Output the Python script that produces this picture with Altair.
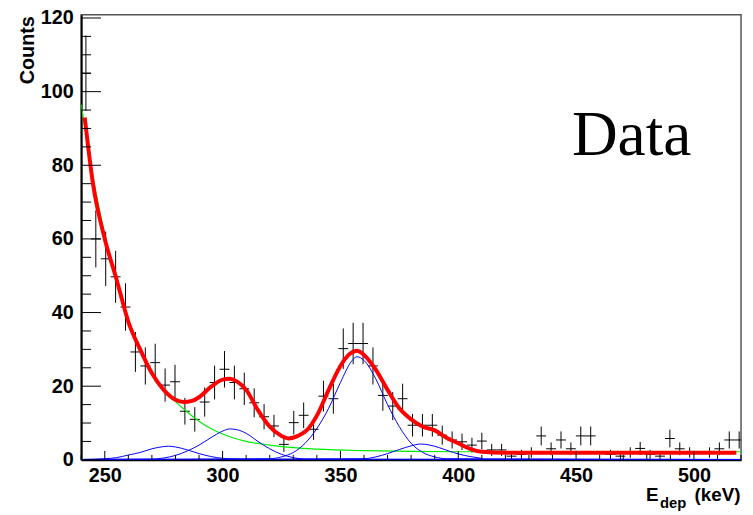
import altair as alt
import pandas as pd
import numpy as np

# ---------------- data ----------------
bin_centers = [242.0, 246.2, 250.4, 254.6, 258.8, 263.0, 267.2, 271.4, 275.6, 279.8,
               284.0, 288.2, 292.4, 296.6, 300.8, 305.0, 309.2, 313.4, 317.6, 321.8,
               326.0, 330.2, 334.4, 338.6, 342.8, 347.0, 351.2, 355.4, 359.6, 363.8,
               368.0, 372.2, 376.4, 380.6, 384.8, 389.0, 393.2, 397.4, 401.6, 405.8,
               410.0, 414.2, 418.4, 422.6, 426.8, 431.0, 435.2, 439.4, 443.6, 447.8,
               452.0, 456.2, 460.4, 464.6, 468.8, 473.0, 477.2, 481.4, 485.6, 489.8,
               494.0, 498.2, 502.4, 506.6, 510.8, 515.0, 519.2]
counts = [105, 60, 54.6, 49.7, 41.5, 29.3, 25.5, 26.4, 20.3, 21.2,
          13.2, 11.0, 15.7, 21.0, 24.6, 21.0, 19.3, 15.5, 11.7, 9.2,
          4.2, 10.1, 12.1, 8.3, 17.3, 16.6, 30.2, 31.6, 31.6, 25.5,
          17.5, 14.6, 16.6, 9.4, 9.4, 9.4, 6.7, 5.4, 4.9, 4.0,
          5.1, 2.7, 2.7, 1.0, 1.5, 2.0, 6.5, 3.0, 5.4, 3.0,
          6.5, 6.5, 0, 1.5, 1.0, 2.0, 3.1, 1.5, 1.0, 5.8,
          3.0, 2.0, 0, 2.0, 3.0, 5.4, 5.4]
half_bin = 2.1

# background (green)
bkg_x = [240, 245, 250, 255, 260, 265, 270, 275, 280, 285, 290, 295, 300, 310, 320,
         330, 340, 360, 380, 400, 440, 480, 520]
bkg_y = [96.5, 77, 61, 48.5, 37, 29.5, 23.5, 19, 15.8, 13, 10.5, 8.5, 7, 5.0, 4.0,
         3.3, 2.9, 2.5, 2.3, 2.2, 2.2, 2.2, 2.2]

# total fit (red)
tot_x = [241.5, 245, 250, 255, 260, 265, 270, 275, 280, 283.5, 287, 290, 295, 300,
         303, 306, 310, 315, 320, 325, 328, 332, 336, 340, 345, 350, 354, 357, 360,
         365, 370, 375, 380, 385, 390, 395, 400, 405, 410, 420, 518]
tot_y = [93, 75, 60, 49, 37.5, 30, 23.5, 19, 16.3, 15.7, 16, 17, 19.8, 21.8,
         22, 21.3, 19, 13.5, 9.0, 6.5, 5.8, 6.5, 8.2, 12, 19, 25.5, 28.8, 29.6, 28.5,
         24.5, 19, 14, 11, 9, 8, 6, 4.5, 3.0, 2.2, 1.9, 1.9]

# peaks (blue)
g1_x = [240, 250, 255, 260, 265, 270, 275, 277, 280, 285, 290, 295, 300, 305, 310, 520]
g1_y = [0.1, 0.3, 0.6, 1.3, 2.0, 3.0, 3.6, 3.7, 3.5, 2.7, 1.7, 0.9, 0.4, 0.2, 0.1, 0.1]
g2_x = [240, 270, 275, 280, 285, 290, 295, 300, 303, 306, 310, 315, 320, 325, 330, 335, 520]
g2_y = [0.1, 0.2, 0.5, 1.2, 2.4, 4.0, 6.0, 7.8, 8.4, 8.2, 7.2, 5.0, 3.0, 1.5, 0.6, 0.2, 0.1]
g3_x = [240, 320, 325, 330, 335, 340, 345, 350, 355, 357, 360, 365, 370, 375, 380,
        385, 390, 395, 520]
g3_y = [0.1, 0.3, 0.8, 2.0, 4.5, 8.5, 14, 21, 27, 28, 27, 22, 15, 9, 4.5,
        2, 0.8, 0.3, 0.1]
g4_x = [240, 360, 365, 370, 375, 380, 384, 388, 392, 396, 400, 405, 410]
g4_y = [0.1, 0.3, 0.8, 1.7, 2.8, 3.8, 4.3, 4.0, 3.3, 2.4, 1.6, 0.9, 0.4]

x_major = [250, 300, 350, 400, 450, 500]
x_minor = [240, 260, 270, 280, 290, 310, 320, 330, 340, 360, 370, 380, 390,
           410, 420, 430, 440, 460, 470, 480, 490, 510, 520]
y_major = [0, 20, 40, 60, 80, 100, 120]
y_minor = [5, 10, 15, 25, 30, 35, 45, 50, 55, 65, 70, 75, 85, 90, 95, 105, 110, 115]

# ---------------- chart ----------------
W, H = 667, 450
FONT = "Liberation Sans"
xs = alt.Scale(domain=[240, 520], nice=False, zero=False)
ys = alt.Scale(domain=[0, 120.9], nice=False, zero=False)

xaxis = alt.Axis(values=x_major, ticks=False, grid=False, domain=True,
                 domainColor="black", domainWidth=2, labelFont=FONT,
                 labelFontWeight="bold", labelFontSize=20, labelColor="black",
                 labelPadding=6, labelFlush=False, title=None)
yaxis = alt.Axis(values=y_major, ticks=False, grid=False, domain=True,
                 domainColor="black", domainWidth=2, labelFont=FONT,
                 labelFontWeight="bold", labelFontSize=20, labelColor="black",
                 labelPadding=8, title="Counts", titleFont=FONT,
                 titleFontWeight="bold", titleFontSize=20, titleColor="black",
                 titleAngle=270, titleAlign="right", titleBaseline="middle",
                 titleX=-54, titleY=1)

df = pd.DataFrame({"E": bin_centers, "N": counts})
df = df[df["N"] > 0].copy()
df["err"] = np.sqrt(df["N"])
df["lo"] = df["N"] - df["err"]
df["hi"] = df["N"] + df["err"]
df["xl"] = df["E"] - half_bin
df["xr"] = df["E"] + half_bin

hbar = alt.Chart(df).mark_rule(color="black", strokeWidth=1, clip=True).encode(
    x=alt.X("xl:Q", scale=xs, axis=xaxis), x2="xr:Q",
    y=alt.Y("N:Q", scale=ys, axis=yaxis))
vbar = alt.Chart(df).mark_rule(color="black", strokeWidth=1, clip=True).encode(
    x=alt.X("E:Q", scale=xs), y=alt.Y("lo:Q", scale=ys), y2="hi:Q")


def curve(xv, yv, color, width):
    d = pd.DataFrame({"x": xv, "y": yv})
    return alt.Chart(d).mark_line(color=color, strokeWidth=width, clip=True,
                                  interpolate="monotone").encode(
        x=alt.X("x:Q", scale=xs), y=alt.Y("y:Q", scale=ys))


green = curve(bkg_x, bkg_y, "#00ee00", 1.2)
blues = [curve(a, b, "#0000ff", 1) for a, b in
         [(g1_x, g1_y), (g2_x, g2_y), (g3_x, g3_y), (g4_x, g4_y)]]
red = curve(tot_x, tot_y, "#ff0000", 4)

# inward tick marks (ROOT style)
ymaj = alt.Chart(pd.DataFrame({"v": y_major})).mark_rule(color="black").encode(
    y=alt.Y("v:Q", scale=ys), x=alt.value(0), x2=alt.value(20))
ymin = alt.Chart(pd.DataFrame({"v": y_minor})).mark_rule(color="black").encode(
    y=alt.Y("v:Q", scale=ys), x=alt.value(0), x2=alt.value(10))
xmaj = alt.Chart(pd.DataFrame({"v": x_major})).mark_rule(color="black").encode(
    x=alt.X("v:Q", scale=xs), y=alt.value(H), y2=alt.value(H - 9))
xmin = alt.Chart(pd.DataFrame({"v": x_minor})).mark_rule(color="black").encode(
    x=alt.X("v:Q", scale=xs), y=alt.value(H), y2=alt.value(H - 5))

# texts
lab = alt.Chart(pd.DataFrame({"t": ["Data"]})).mark_text(
    font="Liberation Serif", fontSize=64, align="left", baseline="alphabetic",
    color="black").encode(text="t:N", x=alt.value(496), y=alt.value(142))
t_e = alt.Chart(pd.DataFrame({"t": ["E"]})).mark_text(
    font=FONT, fontSize=19, fontWeight="bold", align="left",
    baseline="alphabetic", color="black").encode(
    text="t:N", x=alt.value(571), y=alt.value(492))
t_dep = alt.Chart(pd.DataFrame({"t": ["dep"]})).mark_text(
    font=FONT, fontSize=15, fontWeight="bold", align="left",
    baseline="alphabetic", color="black").encode(
    text="t:N", x=alt.value(585), y=alt.value(499))
t_kev = alt.Chart(pd.DataFrame({"t": ["(keV)"]})).mark_text(
    font=FONT, fontSize=19, fontWeight="bold", align="left",
    baseline="alphabetic", color="black").encode(
    text="t:N", x=alt.value(620), y=alt.value(492))

chart = alt.layer(hbar, vbar, green, *blues, red, ymaj, ymin, xmaj, xmin,
                  lab, t_e, t_dep, t_kev).properties(
    width=W, height=H,
    autosize=alt.AutoSizeParams(type="none"),
    padding={"left": 74, "top": 4, "right": 4, "bottom": 52},
    background="white",
).configure_view(stroke="#555555", strokeWidth=1.5)

chart.save("out.html", embed_options={"renderer": "svg", "actions": False})
